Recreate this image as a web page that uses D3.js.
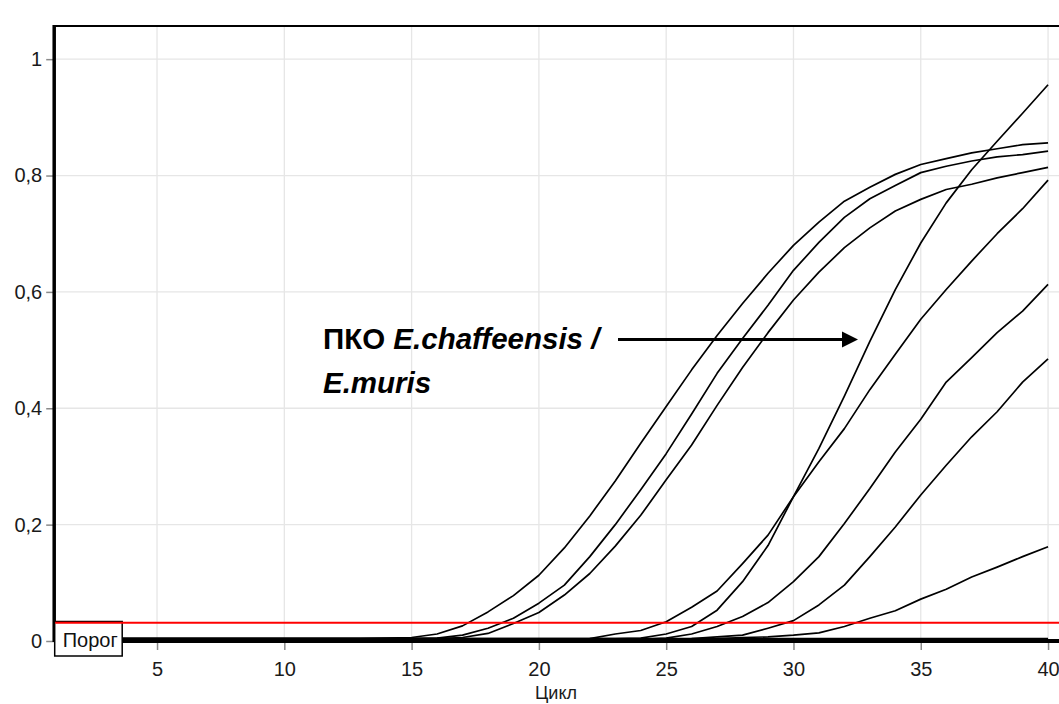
<!DOCTYPE html>
<html><head><meta charset="utf-8">
<script src="https://cdn.jsdelivr.net/npm/d3@7"></script>
<style>
html,body{margin:0;padding:0;background:#fff;}
svg{display:block;font-family:"Liberation Sans",Arial,sans-serif;}
</style></head>
<body><svg id="c" width="1059" height="704"></svg>
<script>
const cycles = [1,2,3,4,5,6,7,8,9,10,11,12,13,14,15,16,17,18,19,20,21,22,23,24,25,26,27,28,29,30,31,32,33,34,35,36,37,38,39,40];
const xTickValues = [5,10,15,20,25,30,35,40];
const yTickValues = [0,0.2,0.4,0.6,0.8,1];
const yTickLabels = ["0","0,2","0,4","0,6","0,8","1"];
const threshold = 0.0314;
const thresholdLabel = "Порог";
const xTitle = "Цикл";
const annotationLine1a = "ПКО ";
const annotationLine1b = "E.chaffeensis /";
const annotationLine2 = "E.muris";

const seriesA = [0.004,0.004,0.004,0.004,0.004,0.004,0.004,0.004,0.004,0.004,0.004,0.004,0.004,0.005,0.006,0.012,0.026,0.05,0.078,0.113,0.16,0.215,0.275,0.34,0.403,0.466,0.525,0.58,0.632,0.68,0.72,0.756,0.78,0.802,0.819,0.829,0.839,0.846,0.853,0.856];
const seriesB = [0.004,0.004,0.004,0.004,0.004,0.004,0.004,0.004,0.004,0.004,0.004,0.004,0.004,0.004,0.004,0.005,0.01,0.022,0.039,0.065,0.096,0.145,0.2,0.26,0.322,0.39,0.46,0.52,0.577,0.637,0.685,0.728,0.76,0.783,0.805,0.816,0.825,0.832,0.836,0.842];
const seriesC = [0.004,0.004,0.004,0.004,0.004,0.004,0.004,0.004,0.004,0.004,0.004,0.004,0.004,0.004,0.004,0.004,0.006,0.013,0.03,0.049,0.079,0.116,0.163,0.216,0.277,0.337,0.405,0.47,0.53,0.586,0.634,0.676,0.71,0.739,0.759,0.776,0.785,0.796,0.805,0.814];
const seriesD = [0.004,0.004,0.004,0.004,0.004,0.004,0.004,0.004,0.004,0.004,0.004,0.004,0.004,0.004,0.004,0.004,0.004,0.004,0.004,0.004,0.004,0.004,0.004,0.005,0.012,0.025,0.053,0.102,0.164,0.248,0.331,0.421,0.515,0.604,0.684,0.753,0.81,0.859,0.907,0.956];
const seriesE = [0.003,0.003,0.003,0.003,0.003,0.003,0.003,0.003,0.003,0.003,0.003,0.003,0.003,0.003,0.003,0.003,0.003,0.003,0.003,0.003,0.003,0.004,0.012,0.018,0.033,0.058,0.086,0.133,0.182,0.248,0.308,0.365,0.432,0.493,0.553,0.604,0.653,0.70,0.743,0.792];
const seriesF = [0.003,0.003,0.003,0.003,0.003,0.003,0.003,0.003,0.003,0.003,0.003,0.003,0.003,0.003,0.003,0.003,0.003,0.003,0.003,0.003,0.003,0.003,0.003,0.003,0.005,0.012,0.025,0.042,0.066,0.102,0.145,0.202,0.262,0.325,0.381,0.445,0.487,0.53,0.567,0.613];
const seriesG = [0.003,0.003,0.003,0.003,0.003,0.003,0.003,0.003,0.003,0.003,0.003,0.003,0.003,0.003,0.003,0.003,0.003,0.003,0.003,0.003,0.003,0.003,0.003,0.003,0.003,0.004,0.007,0.01,0.022,0.035,0.062,0.096,0.145,0.196,0.251,0.302,0.351,0.394,0.445,0.485];
const seriesH = [0.003,0.003,0.003,0.003,0.003,0.003,0.003,0.003,0.003,0.003,0.003,0.003,0.003,0.003,0.003,0.003,0.003,0.003,0.003,0.003,0.003,0.003,0.003,0.003,0.003,0.003,0.004,0.006,0.007,0.01,0.014,0.025,0.039,0.052,0.072,0.089,0.11,0.127,0.145,0.162];
const seriesN1 = [0.004,0.004,0.004,0.004,0.004,0.004,0.004,0.004,0.004,0.004,0.004,0.004,0.004,0.004,0.004,0.004,0.004,0.004,0.004,0.004,0.004,0.004,0.004,0.004,0.004,0.004,0.004,0.004,0.004,0.004,0.004,0.004,0.004,0.004,0.004,0.004,0.004,0.004,0.004,0.004];
const seriesN2 = [0.002,0.002,0.002,0.002,0.002,0.002,0.002,0.002,0.002,0.002,0.002,0.002,0.002,0.002,0.002,0.002,0.002,0.002,0.002,0.002,0.002,0.002,0.002,0.002,0.002,0.002,0.002,0.002,0.002,0.002,0.002,0.002,0.002,0.002,0.002,0.002,0.002,0.002,0.002,0.002];
const allSeries = [seriesN1, seriesN2, seriesA, seriesB, seriesC, seriesD, seriesE, seriesF, seriesG, seriesH];

(function () {
const svg = d3.select("#c");
const pL = 55.2, pR = 1059, pT = 26, pB = 641;
const x = d3.scaleLinear().domain([1, 40.43]).range([pL, pR]);
const y = d3.scaleLinear().domain([0, 1.057]).range([pB, pT]);
const FF = "Liberation Sans, Arial, sans-serif";

// grid
svg.append("g").selectAll("line").data(xTickValues).join("line")
  .attr("x1", d => x(d)).attr("x2", d => x(d)).attr("y1", pT).attr("y2", pB)
  .attr("stroke", "#e6e6e6").attr("stroke-width", 1.3);
svg.append("g").selectAll("line").data(yTickValues.filter(v => v > 0)).join("line")
  .attr("x1", pL).attr("x2", pR).attr("y1", d => y(d)).attr("y2", d => y(d))
  .attr("stroke", "#e6e6e6").attr("stroke-width", 1.3);

// x axis
const xAxis = d3.axisBottom(x).tickValues(xTickValues).tickSize(9).tickPadding(12).tickFormat(d3.format("d"));
const gx = svg.append("g").attr("transform", `translate(0,${pB})`).call(xAxis);
gx.select(".domain").remove();
gx.selectAll(".tick line").attr("stroke", "#8a8a8a").attr("stroke-width", 1.5);
gx.selectAll(".tick text").attr("font-size", 20).attr("fill", "#1a1a1a").attr("font-family", FF);

// y axis
const yAxis = d3.axisLeft(y).tickValues(yTickValues).tickSize(8).tickPadding(4)
  .tickFormat((d, i) => yTickLabels[i]);
const gy = svg.append("g").attr("transform", `translate(${pL - 1},0)`).call(yAxis);
gy.select(".domain").remove();
gy.selectAll(".tick line").attr("stroke", "#8a8a8a").attr("stroke-width", 1.5);
gy.selectAll(".tick text").attr("font-size", 20).attr("fill", "#1a1a1a").attr("font-family", FF);

// curves
const line = d3.line().x((d, i) => x(cycles[i])).y(d => y(d));
svg.append("g").selectAll("path").data(allSeries).join("path")
  .attr("d", line).attr("fill", "none").attr("stroke", "#000").attr("stroke-width", 1.7)
  .attr("stroke-linejoin", "round");

// baseline axis line
svg.append("line").attr("x1", pL).attr("x2", pR).attr("y1", y(0)).attr("y2", y(0))
  .attr("stroke", "#000").attr("stroke-width", 4);

// frame
svg.append("line").attr("x1", pL - 1).attr("x2", pR).attr("y1", pT).attr("y2", pT)
  .attr("stroke", "#000").attr("stroke-width", 2);
svg.append("line").attr("x1", pL - 1).attr("x2", pL - 1).attr("y1", pT - 1).attr("y2", pB + 1)
  .attr("stroke", "#000").attr("stroke-width", 3.5);

// threshold label box
svg.append("rect").attr("x", pL - 0.5).attr("y", 621.5).attr("width", 67.5).attr("height", 34.5)
  .attr("fill", "#fff").attr("stroke", "#000").attr("stroke-width", 1.5);
svg.append("text").attr("x", pL + 35).attr("y", 647).attr("text-anchor", "middle")
  .attr("font-size", 20).attr("fill", "#111").text(thresholdLabel);

// threshold line
svg.append("line").attr("x1", pL).attr("x2", pR).attr("y1", y(threshold)).attr("y2", y(threshold))
  .attr("stroke", "#ff0000").attr("stroke-width", 2);

// x title
svg.append("text").attr("x", 556).attr("y", 699).attr("text-anchor", "middle")
  .attr("font-size", 18).attr("fill", "#1a1a1a").text(xTitle);

// annotation
const t1 = svg.append("text").attr("x", 323).attr("y", 349).attr("font-size", 29.5).attr("font-weight", "bold").attr("fill", "#000");
t1.append("tspan").text(annotationLine1a);
t1.append("tspan").attr("font-style", "italic").text(annotationLine1b);
svg.append("text").attr("x", 323).attr("y", 393).attr("font-size", 29.5).attr("font-weight", "bold")
  .attr("font-style", "italic").attr("fill", "#000").text(annotationLine2);

// arrow
svg.append("line").attr("x1", 618).attr("x2", 844).attr("y1", 339.5).attr("y2", 339.5)
  .attr("stroke", "#000").attr("stroke-width", 2.8);
svg.append("path").attr("d", "M842,331.5 L858,339.5 L842,347.5 Z").attr("fill", "#000");
})();
</script></body></html>
